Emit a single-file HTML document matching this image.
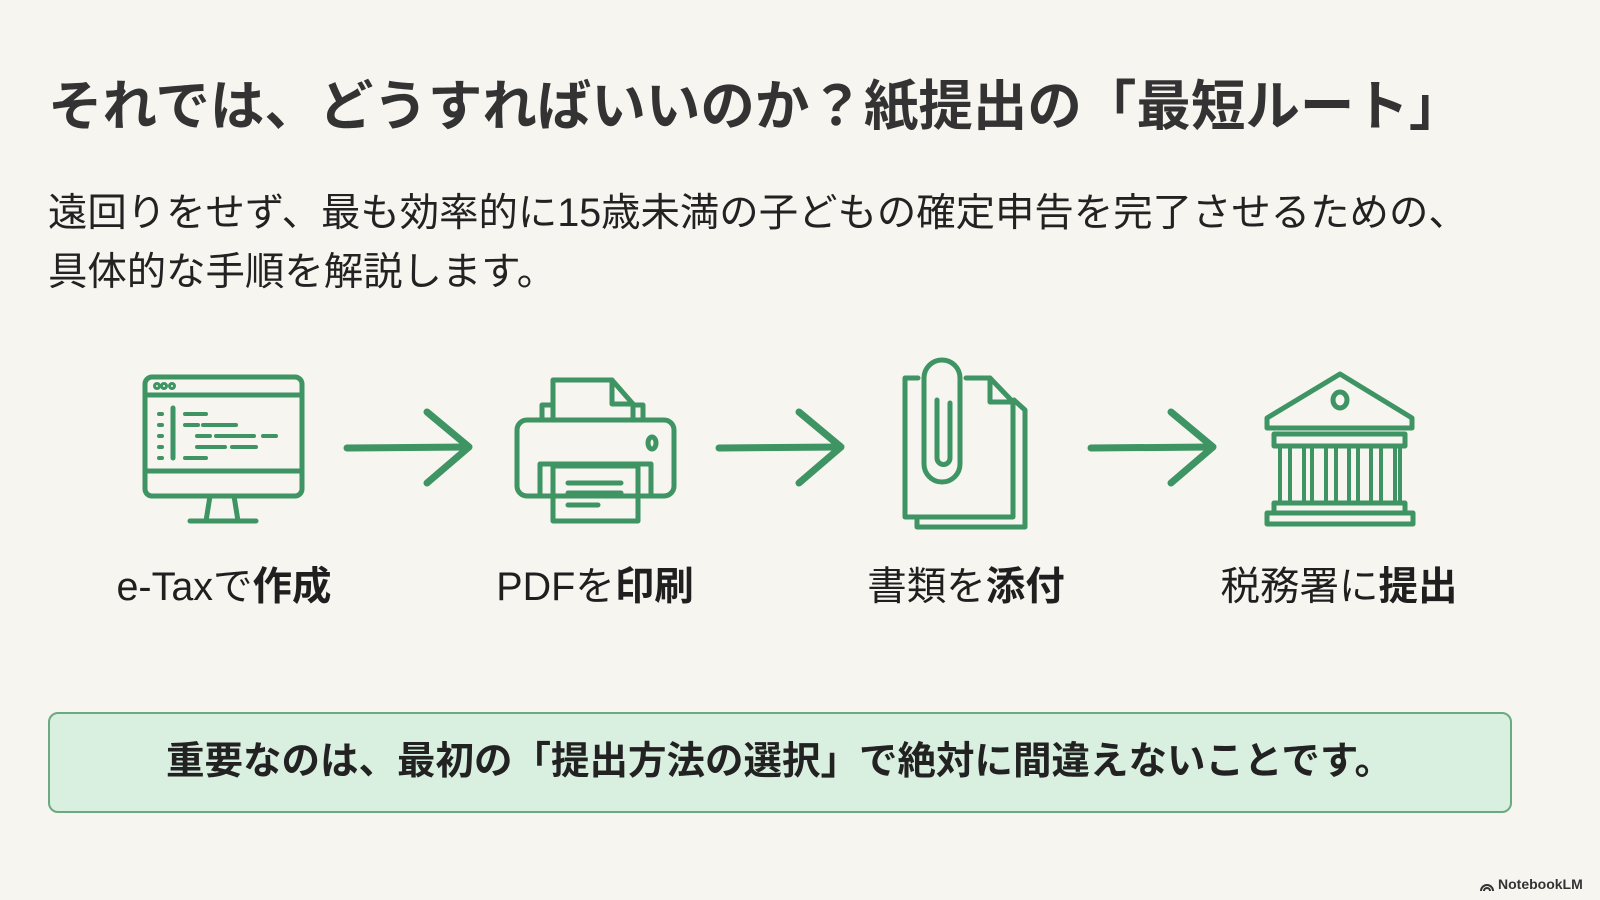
<!DOCTYPE html>
<html><head><meta charset="utf-8"><style>
body{margin:0;width:1600px;height:900px;background:#f7f5f0;position:relative;overflow:hidden;font-family:"Liberation Sans","Noto Sans CJK JP",sans-serif;color:#1f1f1f}
.t{position:absolute;white-space:nowrap;line-height:1}
#title{left:48px;top:80px;font-size:54.5px;font-weight:bold;color:#333}
.sub{left:48px;font-size:39.4px;color:#222}
.lab{font-size:39.5px;transform:translateX(-50%);top:568px}
.lab b{font-weight:bold}
#box{position:absolute;left:48px;top:712px;width:1464px;height:101px;background:#d9efe0;border:2px solid #6aaa80;border-radius:10px;box-sizing:border-box}
#boxt{left:166px;top:743px;font-size:38.5px;font-weight:bold;color:#222}
svg{position:absolute;left:0;top:0}
</style></head><body>
<div id="title" class="t">それでは、どうすればいいのか？紙提出の「最短ルート」</div>
<div class="t sub" style="top:194px">遠回りをせず、最も効率的に15歳未満の子どもの確定申告を完了させるための、</div>
<div class="t sub" style="top:253px">具体的な手順を解説します。</div>

<svg width="1600" height="900" fill="none" stroke="#3e9462" stroke-width="5" stroke-linecap="round" stroke-linejoin="round">
<!-- monitor -->
<rect x="145" y="377" width="157" height="119" rx="7"/>
<line x1="145" y1="395" x2="302" y2="395"/>
<line x1="145" y1="471" x2="302" y2="471"/>
<circle cx="157" cy="386" r="1.5"/><circle cx="164" cy="386" r="1.5"/><circle cx="172" cy="386" r="1.5"/>
<line x1="173" y1="408" x2="173" y2="458"/>
<g stroke-width="4">
<line x1="159" y1="414" x2="162" y2="414"/><line x1="159" y1="425" x2="162" y2="425"/><line x1="159" y1="436" x2="162" y2="436"/><line x1="159" y1="447" x2="162" y2="447"/><line x1="159" y1="458" x2="162" y2="458"/>
<line x1="185" y1="414" x2="206" y2="414"/>
<line x1="185" y1="425" x2="198" y2="425"/><line x1="203" y1="425" x2="236" y2="425"/>
<line x1="197" y1="436" x2="210" y2="436"/><line x1="216" y1="436" x2="254" y2="436"/><line x1="263" y1="436" x2="276" y2="436"/>
<line x1="197" y1="447" x2="225" y2="447"/><line x1="232" y1="447" x2="256" y2="447"/>
<line x1="185" y1="458" x2="206" y2="458"/>
</g>
<path d="M210 496 L206 521 M234 496 L238 521"/>
<line x1="190" y1="521" x2="256" y2="521"/>
<!-- arrow1 -->
<path d="M347 448 L468 447" stroke-width="7"/>
<path d="M427 412 L469 447 L427 483" stroke-width="7"/>
<!-- printer -->
<rect x="517" y="420" width="157" height="76" rx="10"/>
<path d="M542 420 V405 H552 M633 405 H643 V420"/>
<path d="M553 420 V380 H612 L633 404 V420"/>
<path d="M612 380 V404 H633"/>
<ellipse cx="652" cy="443" rx="4" ry="6"/>
<path d="M540 496 V464 H651 V496"/>
<rect x="553" y="466" width="85" height="55"/>
<line x1="568" y1="483" x2="621" y2="483"/><line x1="568" y1="493" x2="621" y2="493"/><line x1="568" y1="505" x2="598" y2="505"/>
<!-- arrow2 -->
<path d="M719 448 L840 447" stroke-width="7"/>
<path d="M799 412 L841 447 L799 483" stroke-width="7"/>
<!-- docs clip -->
<path d="M917 520 V527 H1025 V410 L1014 400"/>
<path d="M918 378 H905 V517 H1013 V402 L990 378 H966"/>
<path d="M990 378 V402 H1013"/>
<path d="M924 378 A18 18 0 0 1 960 378 V464 A18 18 0 0 1 924 464 Z"/>
<path d="M937 400 V458 A6.5 6.5 0 0 0 950 458 V403"/>
<!-- arrow3 -->
<path d="M1091 448 L1212 447" stroke-width="7"/>
<path d="M1171 412 L1213 447 L1171 483" stroke-width="7"/>
<!-- bank -->
<path d="M1267 418 L1340 374 L1412 418 V428 H1267 Z"/>
<ellipse cx="1340" cy="400" rx="7" ry="8"/>
<rect x="1274" y="434" width="131" height="12"/>
<g stroke-width="4">
<line x1="1280" y1="446" x2="1280" y2="503"/><line x1="1290" y1="446" x2="1290" y2="503"/>
<line x1="1304" y1="446" x2="1304" y2="503"/><line x1="1312" y1="446" x2="1312" y2="503"/>
<line x1="1326" y1="446" x2="1326" y2="503"/><line x1="1336" y1="446" x2="1336" y2="503"/>
<line x1="1349" y1="446" x2="1349" y2="503"/><line x1="1358" y1="446" x2="1358" y2="503"/>
<line x1="1371" y1="446" x2="1371" y2="503"/><line x1="1381" y1="446" x2="1381" y2="503"/>
<line x1="1395" y1="446" x2="1395" y2="503"/><line x1="1400" y1="446" x2="1400" y2="503"/>
</g>
<rect x="1274" y="503" width="131" height="10"/>
<rect x="1267" y="513" width="146" height="11"/>
</svg>

<div class="t lab" style="left:224px">e-Taxで<b>作成</b></div>
<div class="t lab" style="left:595px">PDFを<b>印刷</b></div>
<div class="t lab" style="left:966px">書類を<b>添付</b></div>
<div class="t lab" style="left:1339px">税務署に<b>提出</b></div>

<div id="box"></div>
<div id="boxt" class="t">重要なのは、最初の「提出方法の選択」で絶対に間違えないことです。</div>

<div class="t" style="left:1498px;top:877px;font-size:14px;font-weight:bold;color:#333">NotebookLM</div>
<svg width="1600" height="900" style="pointer-events:none"><path d="M1481 891 A6 6 0 0 1 1493 891 M1484 891 A3 3 0 0 1 1490 891" stroke="#333" stroke-width="2" fill="none"/></svg>
</body></html>
